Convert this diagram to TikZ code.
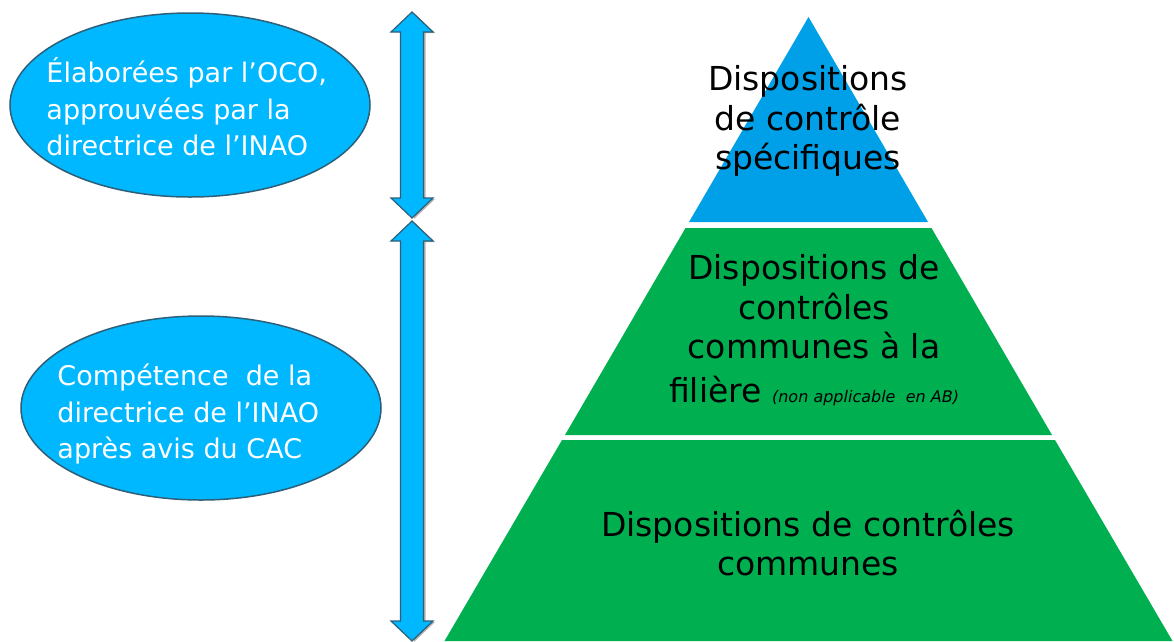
\documentclass[tikz,border=0pt]{standalone}
\usepackage{fontspec}
\setmainfont{DejaVu Sans}
\usetikzlibrary{shapes.geometric}

\definecolor{ovalblue}{RGB}{0,184,255}
\definecolor{topblue}{RGB}{0,160,233}
\definecolor{pyrgreen}{RGB}{0,176,80}
\definecolor{rimdark}{RGB}{45,95,120}

\tikzset{
  oval/.style={ellipse, fill=ovalblue, draw=rimdark, line width=1.5pt,
    minimum width=360pt, minimum height=184pt, inner sep=0pt},
  ovaltext/.style={align=left, text=white, inner sep=0pt, anchor=west,
    font=\fontsize{27}{36.5}\selectfont},
  layertext/.style={align=center, text=black, inner sep=0pt,
    font=\fontsize{33}{39.5}\selectfont},
  spanarrow/.style={fill=ovalblue, draw=rimdark, line width=1.2pt, line join=miter},
  spanshade/.style={fill=black!30}
}

% vertical double arrow: #1 top tip, #2 bottom tip
\newcommand{\spanbar}[2]{%
  \fill[spanshade] (414,#1+1) -- (435,#1+21) -- (425.5,#1+21) -- (425.5,#2-19)
    -- (435,#2-19) -- (414,#2+1) -- cycle;
  \filldraw[spanarrow] (412,#1) -- (433,#1+20) -- (423.5,#1+20) -- (423.5,#2-20)
    -- (433,#2-20) -- (412,#2) -- (391,#2-20) -- (400.5,#2-20) -- (400.5,#1+20)
    -- (391,#1+20) -- cycle;}

\begin{document}
\begin{tikzpicture}[x=1pt,y=-1pt]
  \useasboundingbox (0,0) rectangle (1174,641);

  % left ovals
  \node[oval] (ocobox) at (190,105) {};
  \node[ovaltext] (ocotext) at ([xshift=37pt,yshift=-2pt]ocobox.west)
    {Élaborées par l’OCO,\\approuvées par la\\directrice de l’INAO};
  \node[oval] (inaobox) at (201,408) {};
  \node[ovaltext] (inaotext) at ([xshift=37pt,yshift=-6pt]inaobox.west)
    {Compétence\ \ de la\\directrice de l’INAO\\après avis du CAC};

  % double arrows
  \spanbar{12}{218}
  \spanbar{221}{641}

  % pyramid layers
  \fill[topblue] (808.5,17) -- (928,222) -- (689,222) -- cycle;
  \fill[pyrgreen] (685.5,228) -- (931.5,228) -- (1052,435) -- (565,435) -- cycle;
  \fill[pyrgreen] (562,440) -- (1055,440) -- (1172.5,641) -- (444.5,641) -- cycle;

  \node[layertext] (toplayer) at (808,121)
    {Dispositions\\de contrôle\\spécifiques};
  \node[layertext] (midlayer) at (814,330)
    {Dispositions de\\contrôles\\communes à la\\[4pt]filière
     {\fontsize{16}{18}\selectfont\itshape (non applicable\ \ en AB)}};
  \node[layertext] (baselayer) at (808,543)
    {Dispositions de contrôles\\communes};
\end{tikzpicture}
\end{document}
